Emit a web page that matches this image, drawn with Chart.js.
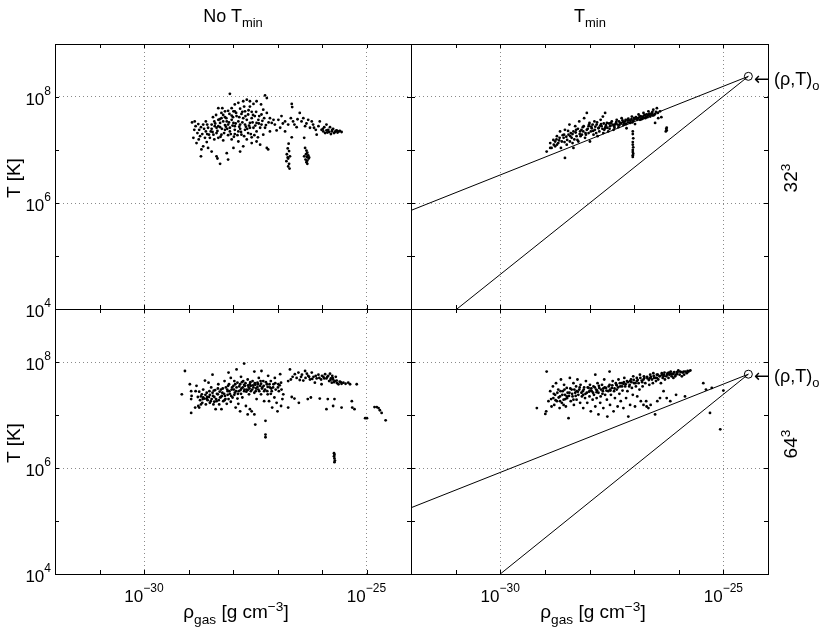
<!DOCTYPE html>
<html>
<head>
<meta charset="utf-8">
<script src="https://cdn.jsdelivr.net/npm/chart.js@4.4.0/dist/chart.umd.min.js"></script>
<style>
body { margin: 0; background: #fff; }
#wrap { position: relative; width: 830px; height: 631px; font-family: "Liberation Sans", Arial, sans-serif; color: #000; }
canvas { position: absolute; left: 0; top: 0; }
.lbl { position: absolute; white-space: nowrap; line-height: 1; }
.lbl sub { font-size: 0.72em; line-height: 0; vertical-align: -0.42em; }
.lbl sup { font-size: 0.72em; line-height: 0; vertical-align: 0.5em; }
.rot { transform: translate(-50%, -50%) rotate(-90deg); }
.mid { transform: translateX(-50%); }
.arr { font-family: "DejaVu Sans", sans-serif; }
</style>
</head>
<body>
<div id="wrap">
  <canvas id="tl" width="830" height="631"></canvas>
  <canvas id="tr" width="830" height="631"></canvas>
  <canvas id="bl" width="830" height="631"></canvas>
  <canvas id="br" width="830" height="631"></canvas>

  <div class="lbl mid" style="left:233px;top:7px;font-size:18px">No T<sub>min</sub></div>
  <div class="lbl mid" style="left:590px;top:7px;font-size:18px">T<sub>min</sub></div>

  <div class="lbl rot" style="left:13px;top:178px;font-size:19px">T [K]</div>
  <div class="lbl rot" style="left:13px;top:443px;font-size:19px">T [K]</div>

  <div class="lbl mid" style="left:236px;top:602px;font-size:19px">&rho;<sub>gas</sub> [g cm<sup>&minus;3</sup>]</div>
  <div class="lbl mid" style="left:593px;top:602px;font-size:19px">&rho;<sub>gas</sub> [g cm<sup>&minus;3</sup>]</div>

  <div class="lbl rot" style="left:790px;top:178px;font-size:19px">32<sup>3</sup></div>
  <div class="lbl rot" style="left:790px;top:444px;font-size:19px">64<sup>3</sup></div>

  <div class="lbl" style="left:754px;top:70px;font-size:18px"><span class="arr">&larr;</span> (&rho;,T)<sub>o</sub></div>
  <div class="lbl" style="left:754px;top:367px;font-size:18px"><span class="arr">&larr;</span> (&rho;,T)<sub>o</sub></div>
</div>
<script>
// axis decades (log10) and labelled decades
const xDecades = [-32, -31, -30, -29, -28, -27, -26, -25, -24];
const yDecades = [4, 5, 6, 7, 8, 9];
const xLabels = [-30, -25];
const yLabels = [4, 6, 8];

// particle samples as [log10 rho_gas, log10 T]
const noTmin32 = [
  [-28.07,8.06],[-27.28,8.03],[-27.24,7.98],[-26.68,7.87],[-26.67,7.81],
  [-28.92,7.52],[-28.86,7.54],[-28.78,7.49],[-28.72,7.43],[-28.87,7.38],[-28.80,7.32],[-28.74,7.26],[-28.89,7.23],
  [-28.82,7.13],[-28.71,7.01],[-28.67,7.07],[-28.72,6.88],[-28.59,7.15],[-28.63,7.23],[-28.54,7.29],[-28.56,7.04],
  [-28.48,6.97],[-28.37,6.88],[-28.35,6.84],[-28.29,6.74],[-28.14,6.94],[-28.11,6.82],[-27.99,7.04],[-27.84,6.97],
  [-27.77,7.07],[-27.58,7.13],[-27.47,7.16],[-27.39,7.10],[-27.24,7.04],[-27.21,7.01],
  [-28.33,7.79],[-28.26,7.70],[-27.96,7.86],[-27.88,7.89],[-27.77,7.92],[-27.69,7.95],[-27.62,7.82],[-27.54,7.87],
  [-27.47,7.92],[-27.37,7.86],[-27.32,7.76],[-27.36,7.67],[-27.24,7.70],[-27.17,7.60],[-27.09,7.57],[-27.06,7.48],
  [-28.18,7.62],[-28.11,7.74],[-28.03,7.65],[-27.96,7.73],[-27.84,7.78],[-27.73,7.73],[-27.66,7.67],[-27.58,7.72],
  [-27.51,7.64],[-27.43,7.57],[-27.77,7.60],[-27.88,7.54],[-27.99,7.51],[-28.11,7.48],[-28.22,7.54],[-28.33,7.57],
  [-28.42,7.54],[-28.41,7.45],[-28.29,7.43],[-28.18,7.38],[-28.07,7.42],[-27.96,7.45],[-27.84,7.40],[-27.73,7.48],
  [-27.62,7.51],[-27.54,7.42],[-27.47,7.35],[-27.66,7.32],[-27.81,7.29],[-27.96,7.30],[-28.11,7.28],[-28.26,7.29],
  [-28.37,7.32],[-28.50,7.35],[-28.56,7.42],[-28.48,7.48],[-28.52,7.23],[-28.42,7.20],[-28.33,7.23],[-28.22,7.18],
  [-28.03,7.20],[-27.88,7.16],[-27.69,7.20],[-27.58,7.24],[-27.32,7.29],[-27.28,7.42],[-27.17,7.35],[-27.13,7.51],
  [-28.26,7.60],[-28.14,7.54],[-28.03,7.57],[-27.92,7.64],[-27.81,7.68],[-27.69,7.57],[-27.58,7.60],[-27.47,7.51],
  [-27.36,7.48],[-27.84,7.48],[-27.96,7.38],[-28.07,7.35],[-28.18,7.47],[-28.29,7.51],[-28.37,7.42],[-27.73,7.38],
  [-27.62,7.42],[-27.39,7.42],[-27.99,7.73],[-28.18,7.73],[-28.24,7.79],[-28.03,7.79],[-27.75,7.82],[-27.62,7.92],
  [-27.88,7.35],[-28.44,7.29],[-28.61,7.35],[-28.67,7.48],[-28.61,7.54],
  [-28.45,7.62],[-28.38,7.66],[-28.30,7.58],[-28.22,7.66],[-28.15,7.60],[-28.08,7.68],[-28.00,7.62],[-27.93,7.70],
  [-27.86,7.62],[-27.79,7.72],[-27.72,7.64],[-27.65,7.75],[-27.55,7.66],[-27.48,7.72],[-27.41,7.64],[-27.30,7.60],
  [-27.20,7.52],[-28.48,7.40],[-28.40,7.50],[-28.33,7.45],[-28.25,7.40],[-28.16,7.44],[-28.09,7.52],[-28.01,7.46],
  [-27.94,7.50],[-27.86,7.44],[-27.79,7.52],[-27.71,7.44],[-27.64,7.46],[-27.56,7.52],[-27.50,7.46],[-27.42,7.50],
  [-27.34,7.55],[-27.26,7.47],[-28.58,7.30],[-28.46,7.34],[-28.35,7.36],[-28.28,7.25],[-28.20,7.32],[-28.13,7.40],
  [-28.05,7.30],[-27.98,7.25],[-27.90,7.28],[-27.82,7.34],[-27.75,7.26],[-27.68,7.40],[-27.60,7.30],[-27.52,7.28],
  [-27.44,7.24],[-28.84,7.45],[-28.76,7.38],[-28.69,7.30],[-28.77,7.20],[-28.65,7.40],[-28.58,7.48],
  [-26.98,7.57],[-26.91,7.64],[-26.83,7.54],[-26.94,7.42],[-26.83,7.35],[-26.76,7.48],[-26.70,7.60],[-26.65,7.54],
  [-26.57,7.43],[-26.50,7.70],[-26.46,7.54],[-26.42,7.60],[-26.38,7.45],[-26.31,7.57],[-26.27,7.42],[-26.23,7.54],
  [-26.20,7.48],[-26.14,7.38],[-26.08,7.45],[-26.05,7.54],[-26.01,7.38],[-25.95,7.43],[-25.93,7.32],[-25.90,7.48],
  [-25.86,7.38],[-25.82,7.43],[-25.78,7.35],[-25.75,7.40],[-25.71,7.34],[-25.67,7.37],[-25.62,7.35],[-25.56,7.34],
  [-25.84,7.34],[-25.80,7.30],[-25.90,7.37],[-25.97,7.35],[-26.12,7.29],[-26.40,7.23],[-26.68,7.24],[-27.02,7.37],
  [-26.88,7.50],[-26.62,7.48],[-26.55,7.58],[-26.35,7.50],[-26.18,7.42],[-25.98,7.40],[-25.88,7.33],[-25.73,7.32],
  [-25.65,7.33],[-25.60,7.36],[-25.77,7.38],[-25.69,7.36],
  [-26.75,7.12],[-26.77,7.03],[-26.74,6.98],[-26.79,6.92],[-26.72,6.88],[-26.76,6.84],[-26.80,6.79],[-26.74,6.74],
  [-26.76,6.69],[-26.73,6.65],[-26.77,6.86],
  [-26.38,7.04],[-26.35,6.99],[-26.33,6.95],[-26.36,6.92],[-26.31,6.90],[-26.34,6.87],[-26.30,6.84],[-26.37,6.82],
  [-26.33,6.80],[-26.35,6.77],[-26.33,6.74],[-26.29,6.86],[-26.40,6.88]
];

const tmin32 = [
  [-28.96,6.97],[-28.88,7.13],[-28.85,7.04],[-28.77,7.07],[-28.81,7.19],[-28.73,7.26],[-28.70,7.13],[-28.66,7.35],
  [-28.64,7.04],[-28.58,7.23],[-28.55,7.38],[-28.55,6.85],[-28.51,7.10],[-28.47,7.29],[-28.45,7.48],[-28.44,7.16],
  [-28.40,7.23],[-28.36,7.35],[-28.36,7.04],[-28.32,7.45],[-28.29,7.26],[-28.25,7.16],[-28.23,7.54],[-28.21,7.35],
  [-28.17,7.29],[-28.15,7.43],[-28.12,7.60],[-28.10,7.23],[-28.06,7.70],[-28.06,7.38],[-28.02,7.32],[-28.00,7.51],
  [-27.99,7.16],[-27.95,7.41],[-27.91,7.29],[-27.89,7.54],[-27.88,7.38],[-27.84,7.48],[-27.82,7.26],[-27.78,7.35],
  [-27.75,7.57],[-27.73,7.45],[-27.70,7.63],[-27.69,7.32],[-27.65,7.70],[-27.65,7.41],[-27.61,7.51],[-27.58,7.35],
  [-27.54,7.45],[-27.50,7.54],[-27.46,7.38],[-27.43,7.48],[-27.39,7.57],[-27.35,7.43],[-27.31,7.51],[-27.28,7.60],
  [-27.24,7.47],[-27.20,7.54],[-27.17,7.41],[-27.13,7.59],[-27.09,7.51],[-27.05,7.63],[-27.02,7.55],[-26.98,7.49],
  [-26.94,7.60],[-26.90,7.67],[-26.87,7.57],[-26.83,7.63],[-26.79,7.70],[-26.75,7.60],[-26.72,7.67],[-26.68,7.73],
  [-26.64,7.63],[-26.60,7.70],[-26.57,7.76],[-26.53,7.68],[-26.49,7.79],[-26.46,7.60],[-26.53,7.51],[-26.42,7.73],
  [-28.62,7.16],[-28.57,7.29],[-28.50,7.19],[-28.42,7.32],[-28.38,7.13],[-28.30,7.38],[-28.27,7.19],[-28.20,7.26],
  [-28.14,7.35],[-28.08,7.29],[-28.02,7.45],[-27.97,7.35],[-27.93,7.48],[-27.85,7.32],[-27.80,7.41],[-27.74,7.49],
  [-27.67,7.38],[-27.63,7.47],[-27.55,7.40],[-27.52,7.51],[-27.45,7.45],[-27.40,7.53],[-27.33,7.47],[-27.25,7.53],
  [-27.18,7.49],[-27.15,7.57],[-27.08,7.55],[-27.00,7.60],[-26.93,7.57],[-26.88,7.62],[-26.81,7.59],[-26.78,7.65],
  [-26.70,7.62],[-26.66,7.68],[-26.58,7.65],[-28.73,7.10],[-28.67,7.23],[-28.77,7.16],[-28.88,7.04],
  [-28.80,7.10],[-28.74,7.20],[-28.68,7.18],[-28.60,7.28],[-28.56,7.15],[-28.52,7.25],[-28.48,7.36],[-28.43,7.26],
  [-28.38,7.30],[-28.34,7.20],[-28.31,7.33],[-28.26,7.40],[-28.22,7.30],[-28.18,7.38],[-28.13,7.45],[-28.09,7.32],
  [-28.04,7.40],[-28.01,7.48],[-27.96,7.44],[-27.92,7.36],[-27.87,7.44],[-27.83,7.52],[-27.79,7.42],[-27.76,7.46],
  [-27.71,7.40],[-27.68,7.50],[-27.64,7.44],[-27.60,7.42],[-27.56,7.50],[-27.53,7.46],[-27.48,7.48],[-27.44,7.42],
  [-27.41,7.50],[-27.37,7.48],[-27.34,7.54],[-27.29,7.50],[-27.26,7.56],[-27.22,7.50],[-27.19,7.57],[-27.14,7.52],
  [-27.11,7.56],[-27.06,7.58],[-27.04,7.52],[-26.99,7.58],[-26.96,7.62],[-26.91,7.60],[-26.86,7.64],[-26.84,7.58],
  [-26.80,7.62],[-26.76,7.66],[-26.73,7.62],[-26.69,7.66],[-26.65,7.68],[-26.62,7.66],[-26.59,7.72],[-26.55,7.66],
  [-26.51,7.72],[-26.47,7.70],
  [-26.28,7.40],[-26.27,7.37],[-26.29,7.35],[-26.27,7.42],[-26.39,7.62],
  [-27.03,7.35],[-27.03,7.30],[-27.02,7.22],[-27.03,7.15],[-27.03,7.10],[-27.02,7.05],[-27.03,7.00],[-27.03,6.96],
  [-27.02,6.93],[-27.03,6.90],[-27.03,6.87]
];

const noTmin64 = [
  [-29.08,7.83],[-29.15,7.39],[-28.97,7.58],[-28.94,7.45],[-28.93,7.36],[-28.94,7.30],[-28.94,7.04],[-28.84,7.45],
  [-28.82,7.55],[-28.79,7.34],[-28.78,7.17],[-28.76,7.14],[-28.74,7.28],[-28.70,7.39],[-28.69,7.23],[-28.67,7.48],
  [-28.64,7.31],[-28.63,7.65],[-28.61,7.20],[-28.59,7.42],[-28.57,7.28],[-28.55,7.61],[-28.54,7.34],[-28.52,7.23],
  [-28.49,7.52],[-28.48,7.30],[-28.46,7.42],[-28.46,7.76],[-28.44,7.20],[-28.42,7.34],[-28.40,7.47],[-28.39,7.11],
  [-28.37,7.26],[-28.34,7.39],[-28.33,7.58],[-28.31,7.20],[-28.29,7.33],[-28.27,7.48],[-28.26,7.11],[-28.24,7.42],
  [-28.22,7.26],[-28.19,7.64],[-28.18,7.36],[-28.16,7.52],[-28.14,7.21],[-28.12,7.45],[-28.10,7.80],[-28.10,7.30],
  [-28.09,7.58],[-28.07,7.40],[-28.05,7.70],[-28.03,7.48],[-28.01,7.33],[-27.99,7.55],[-27.97,7.64],[-27.96,7.42],
  [-27.94,7.14],[-27.92,7.52],[-27.92,7.86],[-27.90,7.61],[-27.88,7.21],[-27.87,7.45],[-27.84,7.58],[-27.84,7.07],
  [-27.82,7.72],[-27.81,7.50],[-27.79,7.33],[-27.77,7.64],[-27.75,7.97],[-27.75,7.45],[-27.73,7.55],[-27.71,7.17],
  [-27.69,7.48],[-27.67,7.67],[-27.67,7.01],[-27.65,7.53],[-27.64,7.39],[-27.62,7.58],[-27.62,7.11],[-27.60,7.45],
  [-27.58,7.07],[-27.56,7.64],[-27.54,7.52],[-27.52,7.82],[-27.52,7.01],[-27.50,7.57],[-27.50,6.82],[-27.49,7.45],
  [-27.47,7.30],[-27.45,7.61],[-27.43,7.48],[-27.42,7.70],[-27.39,7.55],[-27.37,7.39],[-27.36,7.83],[-27.34,7.52],
  [-27.32,7.64],[-27.30,7.26],[-27.28,7.48],[-27.27,6.89],[-27.27,6.63],[-27.27,6.58],[-27.24,7.58],[-27.22,7.39],
  [-27.21,7.74],[-27.19,7.26],[-27.17,7.52],[-27.15,7.64],[-27.13,7.45],[-27.12,7.14],[-27.09,7.58],[-27.07,7.33],
  [-27.06,7.70],[-27.04,7.48],[-27.02,7.23],[-27.00,7.07],[-26.98,7.58],[-26.97,7.45],[-26.94,7.77],[-26.92,7.17],
  [-26.92,7.61],[-26.91,7.48],[-26.89,7.30],[-26.87,7.39],
  [-28.52,7.38],[-28.42,7.25],[-28.34,7.50],[-28.27,7.34],[-28.19,7.28],[-28.12,7.38],[-28.05,7.25],[-27.97,7.38],
  [-27.90,7.31],[-27.82,7.40],[-27.75,7.57],[-27.67,7.47],[-27.60,7.55],[-27.52,7.42],[-27.45,7.53],[-27.37,7.59],
  [-27.30,7.45],[-27.22,7.53],[-27.15,7.40],[-28.59,7.30],[-28.67,7.33],[-28.72,7.20],[-28.85,7.14],
  [-28.76,7.44],[-28.72,7.35],[-28.68,7.30],[-28.62,7.38],[-28.58,7.34],[-28.53,7.45],[-28.50,7.26],[-28.45,7.36],
  [-28.43,7.46],[-28.38,7.30],[-28.36,7.40],[-28.32,7.28],[-28.30,7.44],[-28.25,7.36],[-28.23,7.50],[-28.20,7.40],
  [-28.17,7.30],[-28.13,7.48],[-28.11,7.55],[-28.08,7.45],[-28.04,7.36],[-28.02,7.52],[-27.98,7.48],[-27.95,7.58],
  [-27.93,7.45],[-27.89,7.40],[-27.86,7.54],[-27.83,7.47],[-27.80,7.62],[-27.78,7.52],[-27.74,7.48],[-27.72,7.60],
  [-27.70,7.44],[-27.66,7.56],[-27.63,7.50],[-27.61,7.62],[-27.57,7.48],[-27.55,7.56],[-27.51,7.60],[-27.48,7.50],
  [-27.44,7.58],[-27.41,7.45],[-27.38,7.64],[-27.35,7.50],[-27.31,7.55],[-27.26,7.62],[-27.23,7.45],[-27.18,7.58],
  [-27.14,7.50],[-27.10,7.52],[-27.05,7.60],[-26.99,7.52],[-26.95,7.56],
  [-26.76,7.64],[-26.72,7.86],[-26.70,7.67],[-26.68,7.34],[-26.76,7.14],[-26.62,7.31],[-26.61,7.77],[-26.57,7.70],
  [-26.53,7.80],[-26.52,7.23],[-26.47,7.72],[-26.42,7.65],[-26.38,7.83],[-26.37,7.70],[-26.32,7.30],[-26.31,7.74],
  [-26.27,7.67],[-26.25,7.33],[-26.23,7.80],[-26.19,7.72],[-26.16,7.61],[-26.12,7.69],[-26.08,7.76],[-26.05,7.31],
  [-26.02,7.67],[-26.01,7.58],[-25.97,7.72],[-25.93,7.77],[-25.90,7.69],[-25.90,7.11],[-25.87,7.30],[-25.86,7.74],
  [-25.84,7.64],[-25.82,7.78],[-25.80,7.69],[-25.78,7.61],[-25.77,7.74],[-25.75,7.17],[-25.75,7.67],[-25.72,7.30],
  [-25.71,7.64],[-25.69,7.72],[-25.67,7.65],[-25.63,7.58],[-25.60,7.63],[-25.56,7.14],[-25.56,7.59],[-25.52,7.61],
  [-25.47,7.59],[-25.41,7.61],[-25.37,7.58],[-25.33,7.26],[-25.32,7.14],[-25.27,7.11],[-25.22,7.58],
  [-26.66,7.72],[-26.50,7.66],[-26.45,7.76],[-26.34,7.78],[-26.29,7.72],[-26.22,7.68],[-26.14,7.74],[-26.06,7.70],
  [-26.00,7.74],[-25.95,7.69],[-25.88,7.72],[-25.81,7.66],[-25.76,7.70],[-25.73,7.62],[-25.66,7.60],[-25.58,7.62],
  [-25.03,6.94],[-24.99,6.94],[-24.82,7.15],[-24.77,7.15],[-24.73,7.13],[-24.70,7.09],[-24.66,7.04],[-24.57,6.90],
  [-25.73,6.28],[-25.72,6.25],[-25.73,6.22],[-25.72,6.18],[-25.71,6.14],[-25.72,6.11]
];

const tmin64 = [
  [-29.18,7.13],[-28.99,7.02],[-28.97,7.07],[-28.96,7.82],[-28.92,7.26],[-28.88,7.45],[-28.85,7.16],[-28.82,7.54],
  [-28.81,7.32],[-28.79,7.19],[-28.77,7.38],[-28.75,7.60],[-28.73,7.26],[-28.70,7.48],[-28.67,7.13],[-28.66,7.35],
  [-28.64,7.67],[-28.62,7.23],[-28.60,7.45],[-28.58,7.29],[-28.57,7.57],[-28.55,7.38],[-28.53,7.16],[-28.51,7.51],
  [-28.50,7.32],[-28.47,6.94],[-28.45,7.42],[-28.44,7.70],[-28.42,7.26],[-28.40,7.48],[-28.38,7.35],[-28.36,7.60],
  [-28.35,7.19],[-28.32,7.42],[-28.30,7.54],[-28.29,7.29],[-28.27,7.67],[-28.25,7.38],[-28.23,7.48],[-28.21,7.23],
  [-28.20,7.57],[-28.17,7.35],[-28.15,7.45],[-28.14,7.13],[-28.12,7.52],[-28.10,7.32],[-28.08,7.64],[-28.06,7.42],
  [-28.05,7.23],[-28.02,7.51],[-28.00,7.35],[-27.99,7.57],[-27.97,7.07],[-27.95,7.45],[-27.93,7.29],[-27.91,7.54],
  [-27.90,7.38],[-27.87,7.76],[-27.87,7.16],[-27.85,7.48],[-27.84,7.32],[-27.82,7.60],[-27.80,7.01],[-27.80,7.42],
  [-27.78,7.51],[-27.76,7.23],[-27.75,7.35],[-27.72,7.57],[-27.70,7.45],[-27.69,7.13],[-27.67,7.67],[-27.65,7.38],
  [-27.63,7.51],[-27.61,7.29],[-27.60,6.97],[-27.58,7.45],[-27.55,7.82],[-27.55,7.57],[-27.54,7.19],[-27.52,7.38],
  [-27.50,7.51],[-27.48,7.64],[-27.46,7.07],[-27.45,7.45],[-27.43,7.32],[-27.40,7.57],[-27.39,7.48],[-27.37,7.16],
  [-27.35,7.67],[-27.33,7.40],[-27.31,7.54],[-27.30,7.26],[-27.28,7.60],[-27.26,7.46],[-27.24,7.13],[-27.22,7.70],
  [-27.20,7.54],[-27.18,7.32],[-27.16,7.64],[-27.15,7.45],[-27.13,6.97],[-27.10,7.57],[-27.09,7.19],[-27.07,7.67],
  [-27.05,7.51],[-27.03,7.38],[-27.02,7.73],[-27.00,7.60],[-26.98,7.16],[-26.96,7.54],[-26.94,7.70],[-26.93,7.35],
  [-26.90,7.60],[-26.88,7.48],[-26.87,7.76],[-26.85,7.26],[-26.83,7.65],[-26.81,7.54],[-26.79,7.19],[-26.78,7.73],
  [-26.75,7.60],[-26.73,7.26],[-26.72,7.16],[-26.70,7.69],[-26.68,7.13],[-26.66,7.57],[-26.64,7.76],[-26.63,7.19],
  [-26.60,7.67],[-26.58,7.60],[-26.57,7.79],[-26.55,7.70],[-26.53,7.01],[-26.51,7.64],[-26.49,7.76],[-26.48,7.26],
  [-26.46,7.67],[-26.43,7.73],[-26.42,7.32],[-26.40,7.60],[-26.38,7.79],[-26.36,7.70],[-26.34,7.45],[-26.33,7.76],
  [-26.31,7.67],[-26.28,7.73],[-26.27,7.32],[-26.25,7.79],[-26.23,7.70],[-26.21,7.76],[-26.19,7.26],[-26.18,7.82],
  [-26.16,7.73],[-26.13,7.77],[-26.12,7.70],[-26.10,7.81],[-26.08,7.73],[-26.06,7.38],[-26.04,7.77],[-26.01,7.84],
  [-25.98,7.76],[-25.95,7.81],[-25.93,7.73],[-25.89,7.82],[-25.88,7.76],[-25.86,7.35],[-25.82,7.79],[-25.78,7.82],
  [-25.74,7.84],
  [-28.36,7.29],[-28.29,7.45],[-28.14,7.38],[-27.99,7.46],[-27.84,7.43],[-27.69,7.50],[-27.54,7.48],[-27.39,7.56],
  [-27.24,7.59],[-27.09,7.64],[-26.94,7.64],[-26.79,7.67],[-26.64,7.70],[-26.49,7.70],[-26.34,7.73],[-26.19,7.77],
  [-26.04,7.81],[-28.51,7.35],[-28.66,7.26],[-28.58,7.19],
  [-28.86,7.30],[-28.80,7.40],[-28.76,7.28],[-28.72,7.42],[-28.69,7.33],[-28.65,7.45],[-28.61,7.38],[-28.56,7.48],
  [-28.54,7.30],[-28.49,7.42],[-28.46,7.36],[-28.43,7.50],[-28.39,7.40],[-28.34,7.48],[-28.31,7.36],[-28.26,7.44],
  [-28.22,7.52],[-28.18,7.42],[-28.13,7.48],[-28.09,7.40],[-28.04,7.52],[-28.01,7.44],[-27.96,7.50],[-27.92,7.42],
  [-27.88,7.52],[-27.83,7.46],[-27.79,7.55],[-27.74,7.48],[-27.71,7.40],[-27.66,7.52],[-27.62,7.46],[-27.57,7.54],
  [-27.53,7.46],[-27.49,7.56],[-27.44,7.50],[-27.41,7.60],[-27.36,7.52],[-27.32,7.60],[-27.27,7.54],[-27.23,7.62],
  [-27.19,7.58],[-27.14,7.62],[-27.11,7.54],[-27.06,7.62],[-27.01,7.66],[-26.97,7.60],[-26.92,7.66],[-26.86,7.70],
  [-26.82,7.62],[-26.77,7.70],[-26.71,7.72],[-26.67,7.66],[-26.62,7.72],[-26.56,7.74],[-26.52,7.70],[-26.47,7.76],
  [-26.41,7.74],[-26.37,7.76],[-26.32,7.80],[-26.26,7.76],[-26.22,7.80],[-26.17,7.78],[-26.11,7.80],[-26.07,7.76],
  [-26.03,7.80],[-25.97,7.82],[-25.91,7.80],[-25.85,7.82],[-25.80,7.83],
  [-25.45,7.60],[-25.39,7.48],[-25.26,7.51],[-25.30,7.04],[-25.07,6.73],[-25.00,7.46]
];

// (rho, T)_o and the two lines drawn from it, [log10 rho, log10 T]
const apex32 = [-24.44, 8.39];
const shallowEnd32 = [-32.0, 5.86];
const steepEnd32 = [-30.97, 4.0];
const apex64 = [-24.44, 7.77];
const shallowEnd64 = [-32.0, 5.25];
const steepEnd64 = [-30.0, 4.0];

const W = 830, H = 631;
const FONT = '"Liberation Sans", Arial, sans-serif';

const toXY = p => ({x: Math.pow(10, p[0]), y: Math.pow(10, p[1])});

function cloud(pts) {
    return {
        data: pts.map(toXY),
        pointRadius: 1.4,
        pointHoverRadius: 1.4,
        backgroundColor: '#000',
        borderWidth: 0
    };
}

function segment(a, b) {
    return {
        data: [toXY(a), toXY(b)],
        showLine: true,
        borderColor: '#000',
        borderWidth: 1,
        pointRadius: 0,
        pointHoverRadius: 0
    };
}

function apexMark(a) {
    return {
        data: [toXY(a)],
        pointRadius: 4,
        pointHoverRadius: 4,
        backgroundColor: 'rgba(0,0,0,0)',
        borderColor: '#000',
        borderWidth: 1
    };
}

function logAxis(decades, major, horizontal) {
    return {
        type: 'logarithmic',
        min: Math.pow(10, decades[0]),
        max: Math.pow(10, decades[decades.length - 1]),
        afterBuildTicks: s => { s.ticks = decades.map(d => ({value: Math.pow(10, d)})); },
        afterFit: s => { if (horizontal) s.height = 0; else s.width = 0; },
        ticks: {display: false},
        border: {display: false, dash: [1, 3]},
        grid: {
            drawTicks: false,
            lineWidth: 1,
            color: c => (c.tick && major.includes(Math.round(Math.log10(c.tick.value)))) ? '#8a8a8a' : 'rgba(0,0,0,0)'
        }
    };
}

function powLabel(ctx, exp, x, y, align) {
    const txt = exp < 0 ? '\u2212' + Math.abs(exp) : String(exp);
    ctx.font = '17px ' + FONT;
    const w1 = ctx.measureText('10').width;
    ctx.font = '12px ' + FONT;
    const w2 = ctx.measureText(txt).width;
    const x0 = align === 'right' ? x - w1 - w2 : x - (w1 + w2) / 2;
    ctx.fillStyle = '#000';
    ctx.textAlign = 'left';
    ctx.textBaseline = 'alphabetic';
    ctx.font = '17px ' + FONT;
    ctx.fillText('10', x0, y);
    ctx.font = '12px ' + FONT;
    ctx.fillText(txt, x0 + w1, y - 10);
}

// box, inward ticks and 10^n labels, MATLAB style
function framePlugin(showX, showY) {
    return {
        id: 'frame',
        afterDraw(chart) {
            const ctx = chart.ctx;
            const a = chart.chartArea;
            const sx = chart.scales.x, sy = chart.scales.y;
            ctx.save();
            ctx.strokeStyle = '#000';
            ctx.lineWidth = 1;
            ctx.beginPath();
            xDecades.forEach(d => {
                const px = Math.round(sx.getPixelForValue(Math.pow(10, d))) + 0.5;
                ctx.moveTo(px, a.bottom); ctx.lineTo(px, a.bottom - 4);
                ctx.moveTo(px, a.top); ctx.lineTo(px, a.top + 4);
            });
            yDecades.forEach(d => {
                const py = Math.round(sy.getPixelForValue(Math.pow(10, d))) + 0.5;
                ctx.moveTo(a.left, py); ctx.lineTo(a.left + 4, py);
                ctx.moveTo(a.right, py); ctx.lineTo(a.right - 4, py);
            });
            ctx.stroke();
            ctx.strokeRect(Math.round(a.left) + 0.5, Math.round(a.top) + 0.5,
                Math.round(a.right - a.left), Math.round(a.bottom - a.top));
            if (showY) {
                yLabels.forEach(d => powLabel(ctx, d, a.left - 4, sy.getPixelForValue(Math.pow(10, d)) + 7.5, 'right'));
            }
            if (showX) {
                xLabels.forEach(d => powLabel(ctx, d, sx.getPixelForValue(Math.pow(10, d)), a.bottom + 28, 'center'));
            }
            ctx.restore();
        }
    };
}

function panel(id, box, datasets, showX, showY) {
    new Chart(document.getElementById(id), {
        type: 'scatter',
        data: {datasets: datasets},
        options: {
            responsive: false,
            animation: false,
            events: [],
            layout: {padding: {left: box[0], top: box[1], right: W - box[2], bottom: H - box[3]}},
            plugins: {legend: {display: false}, tooltip: {enabled: false}},
            scales: {
                x: logAxis(xDecades, xLabels, true),
                y: logAxis(yDecades, [6, 8], false)
            }
        },
        plugins: [framePlugin(showX, showY)]
    });
}

panel('tl', [55, 44, 411, 309], [cloud(noTmin32)], false, true);
panel('tr', [411, 44, 768, 309], [
    cloud(tmin32), segment(apex32, shallowEnd32), segment(apex32, steepEnd32), apexMark(apex32)
], false, false);
panel('bl', [55, 309, 411, 574], [cloud(noTmin64)], true, true);
panel('br', [411, 309, 768, 574], [
    cloud(tmin64), segment(apex64, shallowEnd64), segment(apex64, steepEnd64), apexMark(apex64)
], true, false);
</script>
</body>
</html>
